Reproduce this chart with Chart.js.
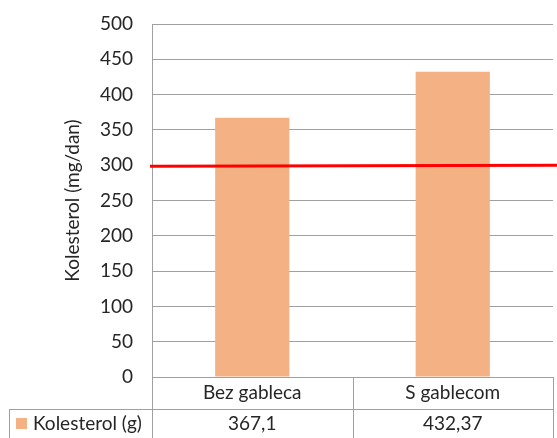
<!DOCTYPE html>
<html>
<head>
<meta charset="utf-8">
<script src="https://cdn.jsdelivr.net/npm/chart.js@4"></script>
<style>
    body { margin: 0; background: #fff; }
    #chartWrap { width: 557px; height: 438px; }
</style>
</head>
<body>
<div id="chartWrap"><canvas id="barChartCanvas"></canvas></div>
<script>
let categories = ['Bez gableca', 'S gablecom'];
let seriesName = 'Kolesterol (g)';
let cholesterol = [367.1, 432.37];
let limitLine = [298.5, 300];   // red line, left end / right end
let yTicks = [0, 500, 50];      // min, max, step

let fontFamily = 'Lato, "Noto Sans", sans-serif';
let fontSize = 19;
let textColor = '#262626';
let lineColor = '#a0a0a0';
let barColor = '#f4b183';

// draws the Excel style data table under the plot and the red limit line
let tablePlugin = {
    id: 'dataTable',
    afterDraw: function (chart) {
        let ctx = chart.ctx;
        let area = chart.chartArea;
        let x = chart.scales.x;
        let y = chart.scales.y;
        let rowTop = area.bottom;
        let rowMid = rowTop + 32;
        let rowEnd = chart.height;

        ctx.save();
        ctx.strokeStyle = lineColor;
        ctx.lineWidth = 1;
        ctx.beginPath();
        ctx.moveTo(area.left, rowTop + 0.5);
        ctx.lineTo(area.right, rowTop + 0.5);
        ctx.moveTo(9, rowMid + 0.5);
        ctx.lineTo(area.right, rowMid + 0.5);
        ctx.moveTo(9.5, rowMid);
        ctx.lineTo(9.5, rowEnd);
        let step = (area.right - area.left) / categories.length;
        for (let i = 0; i <= categories.length; i++) {
            let px = Math.round(area.left + step * i) + 0.5;
            ctx.moveTo(px, rowTop);
            ctx.lineTo(px, rowEnd);
        }
        ctx.stroke();

        ctx.font = fontSize + 'px ' + fontFamily;
        ctx.fillStyle = textColor;
        ctx.textAlign = 'center';
        ctx.textBaseline = 'middle';
        categories.forEach(function (label, i) {
            let cx = x.getPixelForValue(i);
            ctx.fillText(label, cx, rowTop + 16);
            ctx.fillText(String(cholesterol[i]).replace('.', ','), cx, rowMid + 15);
        });

        ctx.fillStyle = barColor;
        ctx.fillRect(16, rowMid + 9, 11, 11);
        ctx.fillStyle = textColor;
        ctx.textAlign = 'left';
        ctx.fillText(seriesName, 33, rowMid + 15);

        ctx.strokeStyle = '#ff0000';
        ctx.lineWidth = 3;
        ctx.beginPath();
        ctx.moveTo(area.left - 2, y.getPixelForValue(limitLine[0]));
        ctx.lineTo(chart.width, y.getPixelForValue(limitLine[1]));
        ctx.stroke();
        ctx.restore();
    }
};

window.onload = function () {
    let ctx = document.getElementById('barChartCanvas').getContext('2d');
    window.barChart = new Chart(ctx, {
        type: 'bar',
        data: {
            labels: categories,
            datasets: [{
                label: seriesName,
                data: cholesterol,
                backgroundColor: barColor,
                categoryPercentage: 1,
                barPercentage: 0.37
            }]
        },
        options: {
            responsive: true,
            maintainAspectRatio: false,
            animation: false,
            layout: { padding: { left: 61, right: 4, top: 24, bottom: 61 } },
            plugins: {
                legend: { display: false },
                tooltip: { enabled: false }
            },
            scales: {
                x: { display: false },
                y: {
                    min: yTicks[0],
                    max: yTicks[1],
                    ticks: {
                        stepSize: yTicks[2],
                        color: textColor,
                        font: { family: fontFamily, size: fontSize },
                        padding: 19
                    },
                    grid: { color: lineColor, drawTicks: false },
                    border: { color: lineColor },
                    title: {
                        display: true,
                        text: 'Kolesterol (mg/dan)',
                        color: textColor,
                        font: { family: fontFamily, size: fontSize },
                        padding: { top: 0, bottom: 0 }
                    },
                    afterFit: function (axis) {
                        axis.width = 91;
                        axis.paddingTop = 0;
                        axis.paddingBottom = 0;
                    }
                }
            }
        },
        plugins: [tablePlugin]
    });
};
</script>
</body>
</html>
